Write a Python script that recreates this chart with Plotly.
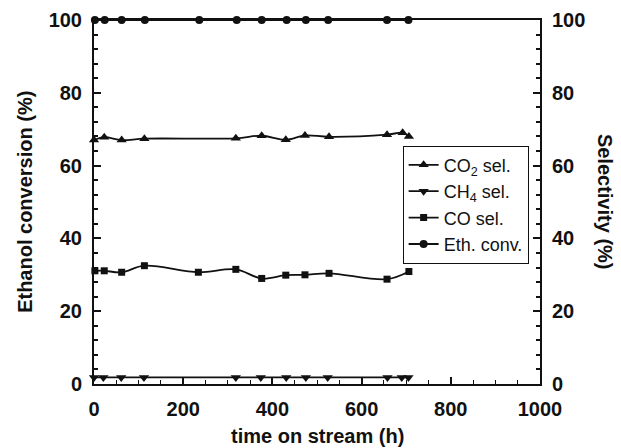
import plotly.graph_objects as go

# Time on stream (h) for each measurement series
t_eth = [2, 24, 62, 114, 236, 320, 376, 432, 475, 525, 657, 705]
t_co2 = [0, 23, 62, 113, 318, 376, 430, 473, 527, 657, 692, 706]
t_ch4 = [0, 21, 61, 112, 318, 374, 431, 475, 524, 658, 690, 705]
t_co = [2, 23, 62, 113, 234, 318, 376, 430, 473, 527, 657, 706]

# Measured values (%)
eth_conv = [100, 100, 100, 100, 100, 100, 100, 100, 100, 100, 100, 100]
co2_sel = [67.0, 67.8, 67.0, 67.4, 67.5, 68.2, 67.1, 68.3, 67.9, 68.5, 69.0, 68.0]
ch4_sel = [1.8, 1.8, 1.8, 1.8, 1.8, 1.8, 1.8, 1.8, 1.8, 1.8, 1.8, 1.8]
co_sel = [31.1, 31.1, 30.7, 32.5, 30.7, 31.5, 29.0, 29.9, 30.0, 30.4, 28.8, 30.9]

FONT = "Liberation Sans, Arial, sans-serif"
BLACK = "#111111"

fig = go.Figure()

def add_series(x, y, name, symbol, size, yaxis):
    fig.add_trace(go.Scatter(
        x=x, y=y, name=name, yaxis=yaxis,
        mode="lines+markers",
        line=dict(color=BLACK, width=1.8, shape="spline", smoothing=1),
        marker=dict(symbol=symbol, size=size, color=BLACK),
        cliponaxis=False,
    ))

add_series(t_co2, co2_sel, "CO<sub>2</sub> sel.", "triangle-up", 9, "y2")
add_series(t_ch4, ch4_sel, "CH<sub>4</sub> sel.", "triangle-down", 9, "y2")
add_series(t_co, co_sel, "CO sel.", "square", 7, "y2")
add_series(t_eth, eth_conv, "Eth. conv.", "circle", 8, "y")

tick_font = dict(family=FONT, size=20, color=BLACK, weight="bold")
title_font = dict(family=FONT, size=20, color=BLACK, weight="bold")
axis_common = dict(
    showline=True, linecolor=BLACK, linewidth=2,
    showgrid=False, zeroline=False, automargin=False,
    ticks="inside", ticklen=7, tickwidth=2, tickcolor=BLACK,
    tickfont=tick_font,
)

fig.update_layout(
    width=621, height=448,
    margin=dict(l=94, r=81, t=20, b=64),
    paper_bgcolor="white", plot_bgcolor="white",
    font=dict(family=FONT, color=BLACK),
    xaxis=dict(
        range=[0, 1000], tickmode="linear", tick0=0, dtick=200,
        mirror=True, ticklabelstandoff=6,
        minor=dict(ticks="inside", dtick=50, ticklen=4, tickwidth=1, tickcolor=BLACK),
        **axis_common,
    ),
    yaxis=dict(
        range=[0, 100], tickmode="linear", tick0=0, dtick=20,
        ticklabelstandoff=6,
        minor=dict(ticks="inside", dtick=4, ticklen=4, tickwidth=1.5, tickcolor=BLACK),
        **axis_common,
    ),
    yaxis2=dict(
        range=[0, 100], tickmode="linear", tick0=0, dtick=20,
        overlaying="y", side="right", ticklabelstandoff=6,
        minor=dict(ticks="inside", dtick=4, ticklen=4, tickwidth=1.5, tickcolor=BLACK),
        **axis_common,
    ),
    legend=dict(
        x=0.692, y=0.655, xanchor="left", yanchor="top",
        bordercolor=BLACK, borderwidth=1, bgcolor="white",
        font=dict(family=FONT, size=18, color=BLACK),
        itemwidth=30, tracegroupgap=0,
    ),
    showlegend=True,
    annotations=[
        dict(text="Ethanol conversion (%)", xref="paper", yref="paper",
             x=-0.155, y=0.5, xanchor="center", yanchor="middle",
             textangle=-90, showarrow=False, font=title_font),
        dict(text="Selectivity (%)", xref="paper", yref="paper",
             x=1.146, y=0.5, xanchor="center", yanchor="middle",
             textangle=90, showarrow=False, font=title_font),
        dict(text="time on stream (h)", xref="paper", yref="paper",
             x=0.5, y=-0.142, xanchor="center", yanchor="middle",
             showarrow=False, font=title_font),
    ],
)

fig.write_html("out.html")
